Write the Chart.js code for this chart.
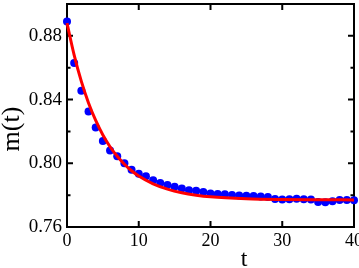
<!DOCTYPE html>
<html>
<head>
<meta charset="utf-8">
<script src="https://cdn.jsdelivr.net/npm/chart.js@4"></script>
<style>
html,body{margin:0;padding:0;background:#fff}
#wrap{width:359px;height:268px;position:relative}
</style>
</head>
<body>
<div id="wrap"><canvas id="chart"></canvas></div>
<script>
// simulation points
const tVals = [0,1,2,3,4,5,6,7,8,9,10,11,12,13,14,15,16,17,18,19,20,
21,22,23,24,25,26,27,28,29,30,31,32,33,34,35,36,37,38,39,40]
const mVals = [0.889,0.863,0.8455,0.8325,0.8225,0.814,0.808,0.8044,0.800,0.796,0.7935,
0.7919,0.7894,0.7877,0.7863,0.7852,0.7842,0.7831,0.7827,0.7819,0.781,
0.7807,0.7805,0.7801,0.7798,0.7796,0.7795,0.7792,0.7788,0.7776,0.7772,
0.7774,0.7777,0.7775,0.7773,0.7757,0.7755,0.7762,0.7770,0.7769,0.7768]

// fitted curve (red)
const fitT = [0,1,2,3,4,5,6,7,8,9,10,12,14,16,18,20,25,30,35,40]
const fitM = [0.888,0.8679,0.8514,0.8379,0.8269,0.8178,0.8104,0.8044,0.7994,0.7953,0.7920,
0.7871,0.7838,0.7815,0.7800,0.7790,0.7778,0.7773,0.7771,0.7770]

const xTicks = [0,10,20,30,40]
const yTicks = [0.76,0.80,0.84,0.88]
const yMinor = [0.78,0.82,0.86]

const FONT = "'Liberation Serif', 'DejaVu Serif', serif"

function pts(xs,ys){
  return xs.map((x,i)=>({x:x,y:ys[i]}))
}

const frame = {
  id:'frame',
  beforeDatasetsDraw(chart){
    const c = chart.ctx
    const a = chart.chartArea
    const xs = chart.scales.x, ys = chart.scales.y
    c.save()
    c.strokeStyle = '#000'
    c.lineWidth = 2
    c.strokeRect(a.left,a.top,a.right-a.left,a.bottom-a.top)
    c.beginPath()
    xTicks.forEach(v=>{
      const px = xs.getPixelForValue(v)
      c.moveTo(px,a.bottom); c.lineTo(px,a.bottom-6)
      c.moveTo(px,a.top); c.lineTo(px,a.top+6)
    })
    yTicks.forEach(v=>{
      const py = ys.getPixelForValue(v)
      c.moveTo(a.left,py); c.lineTo(a.left+6,py)
      c.moveTo(a.right,py); c.lineTo(a.right-6,py)
    })
    yMinor.forEach(v=>{
      const py = ys.getPixelForValue(v)
      c.moveTo(a.left,py); c.lineTo(a.left+3.5,py)
      c.moveTo(a.right,py); c.lineTo(a.right-3.5,py)
    })
    c.stroke()
    c.restore()
  },
  afterDraw(chart){
    const c = chart.ctx
    c.save()
    c.fillStyle = '#000'
    c.font = "26px " + FONT
    c.textAlign = 'center'
    c.textBaseline = 'middle'
    c.translate(12,129)
    c.rotate(-Math.PI/2)
    c.fillText('m(t)',0,0)
    c.restore()
    c.save()
    c.fillStyle = '#000'
    c.font = "24px " + FONT
    c.textAlign = 'center'
    c.textBaseline = 'alphabetic'
    c.fillText('t',244,266)
    c.restore()
  }
}

new Chart(document.getElementById('chart'),{
  type:'scatter',
  data:{
    datasets:[
      {
        label:'fit',
        data:pts(fitT,fitM),
        showLine:true,
        borderColor:'#ff0000',
        borderWidth:3,
        pointRadius:0,
        cubicInterpolationMode:'monotone',
        clip:false
      },
      {
        label:'m(t)',
        data:pts(tVals,mVals),
        backgroundColor:'#0000ff',
        borderWidth:0,
        pointRadius:4,
        clip:false
      }
    ]
  },
  options:{
    responsive:true,
    maintainAspectRatio:false,
    animation:false,
    layout:{padding:{left:0,right:5,top:1,bottom:0}},
    plugins:{legend:{display:false},tooltip:{enabled:false}},
    scales:{
      x:{
        type:'linear',min:0,max:40,
        border:{display:false},
        grid:{display:false,drawTicks:false},
        afterBuildTicks:s=>{s.ticks = xTicks.map(v=>({value:v}))},
        afterFit:s=>{s.height = 41; s.paddingLeft = 0; s.paddingRight = 0},
        ticks:{padding:3,color:'#000',font:{family:FONT,size:18},maxRotation:0,autoSkip:false,
          callback:v=>String(v)}
      },
      y:{
        type:'linear',min:0.76,max:0.9,
        border:{display:false},
        grid:{display:false,drawTicks:false},
        afterBuildTicks:s=>{s.ticks = yTicks.map(v=>({value:v}))},
        afterFit:s=>{s.width = 67; s.paddingTop = 0; s.paddingBottom = 0},
        ticks:{padding:5,color:'#000',font:{family:FONT,size:19},autoSkip:false,
          callback:v=>v.toFixed(2)}
      }
    }
  },
  plugins:[frame]
})
</script>
</body>
</html>
